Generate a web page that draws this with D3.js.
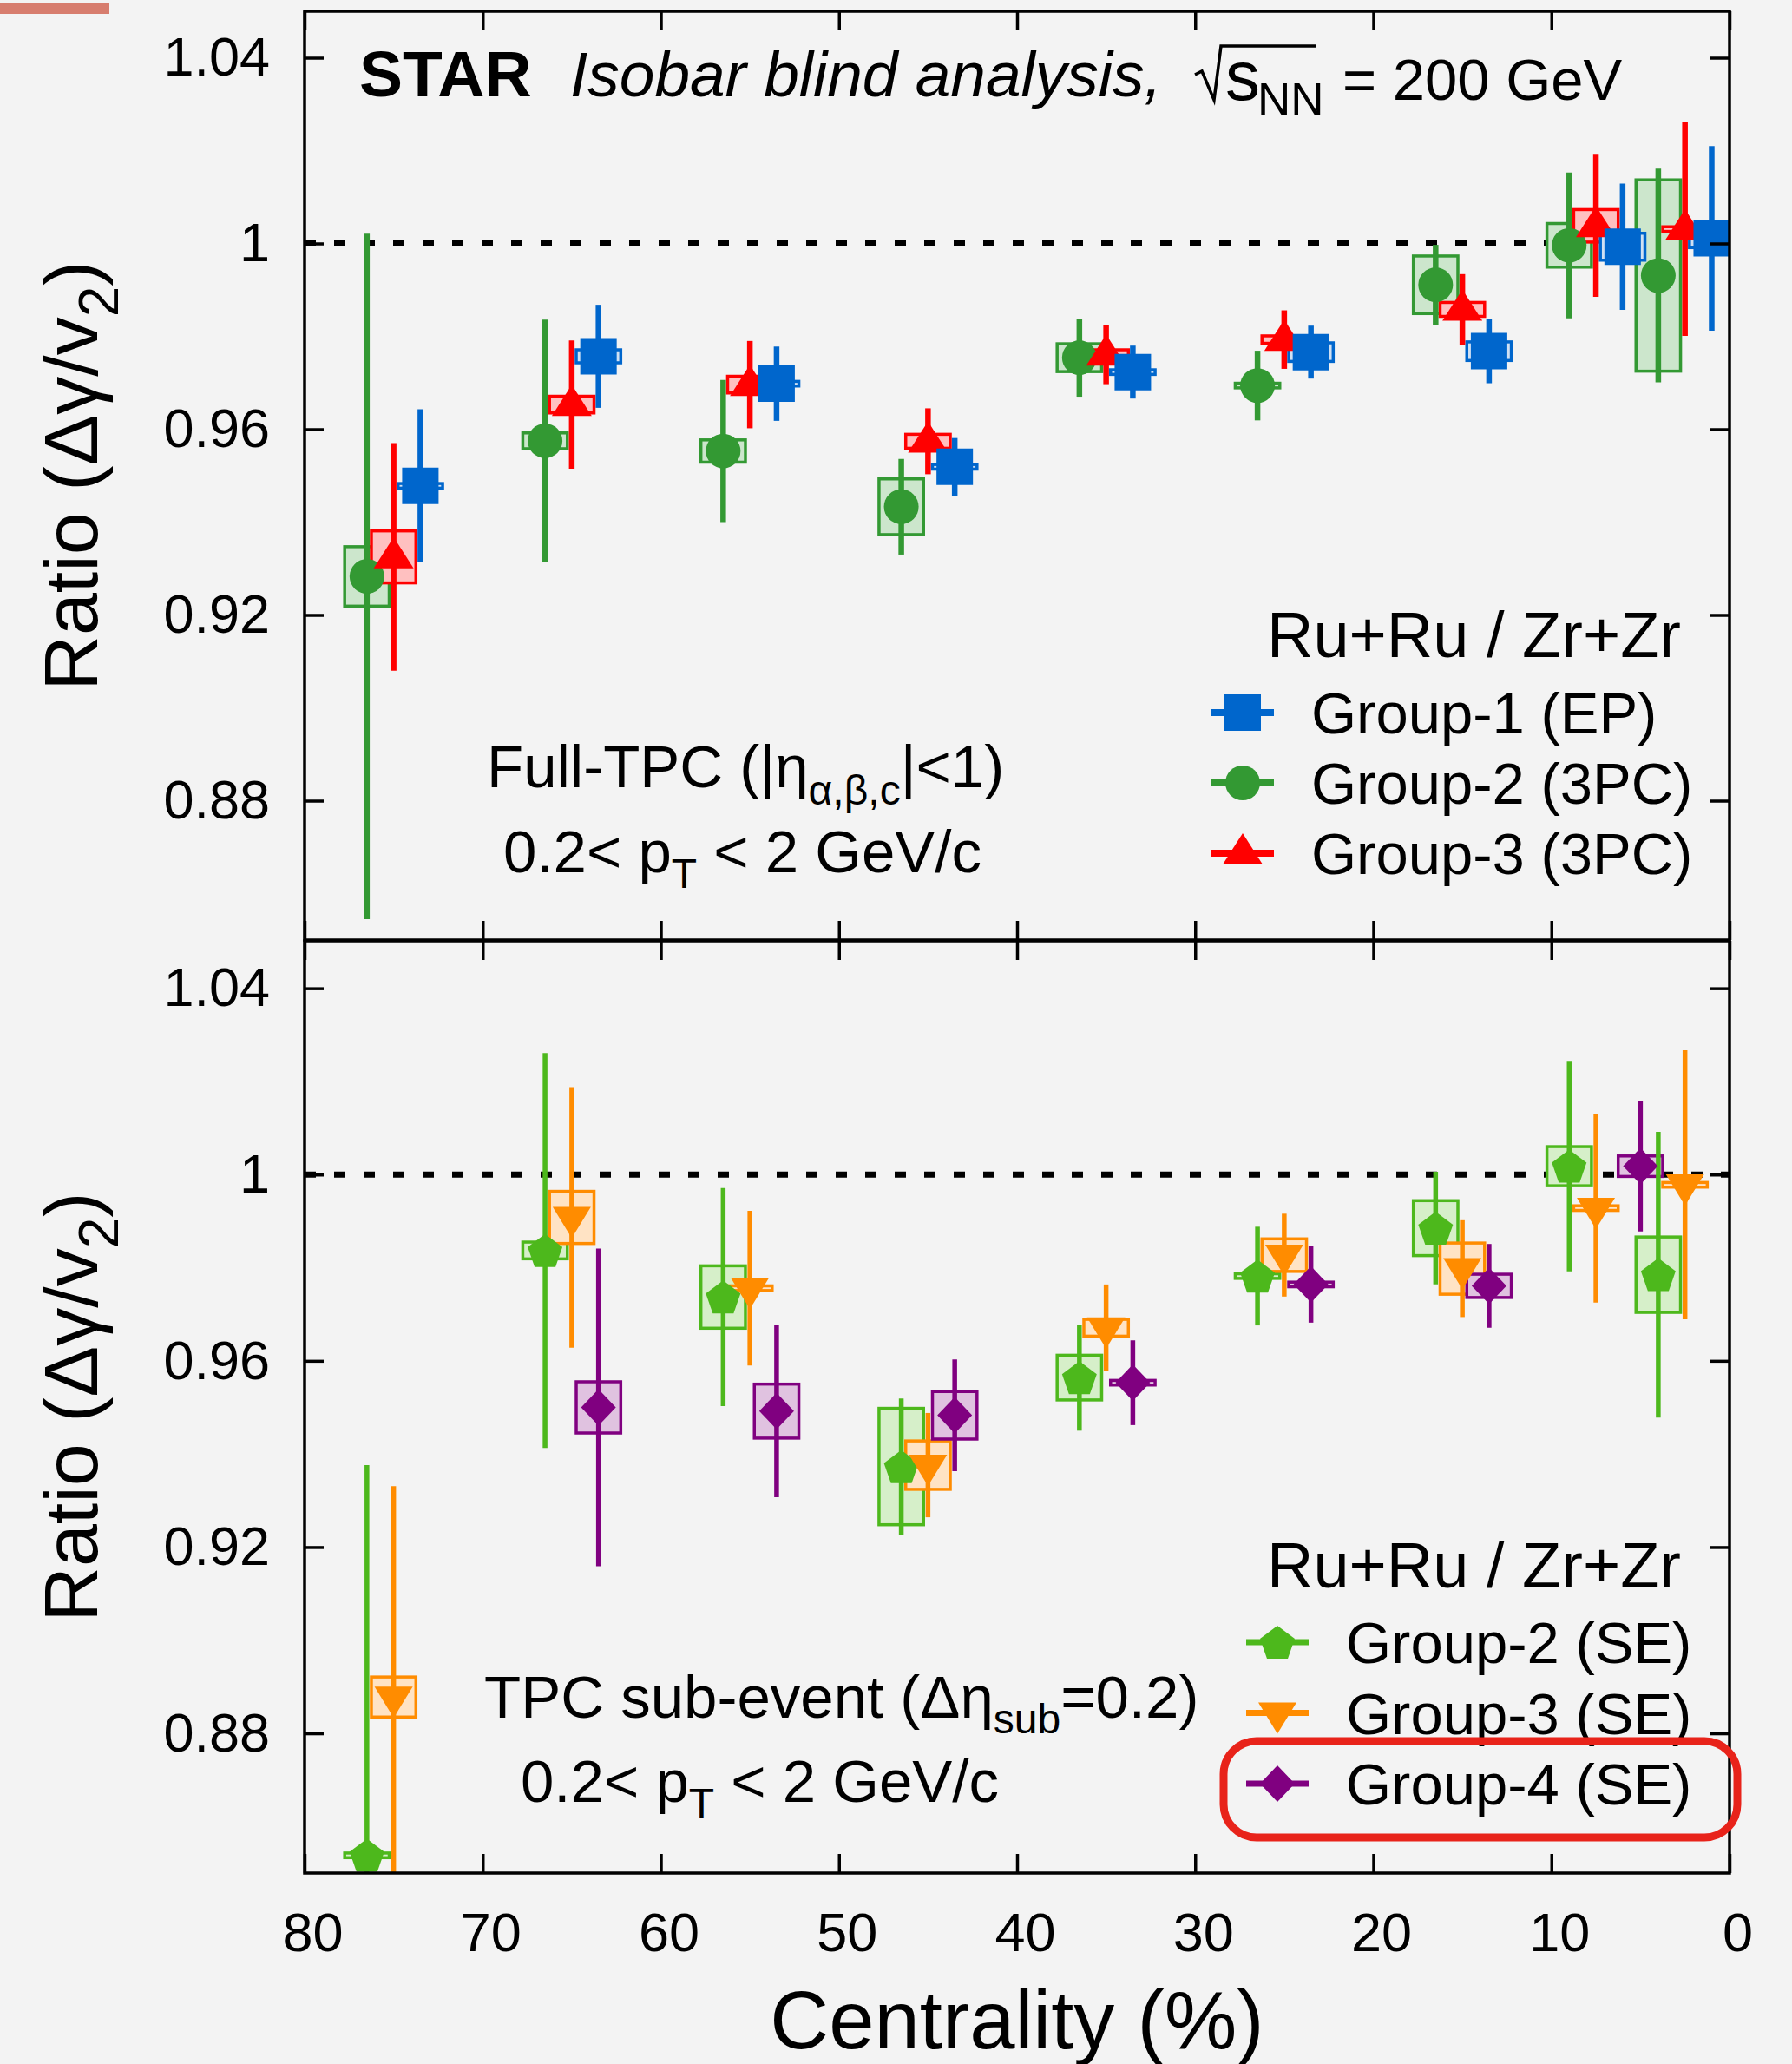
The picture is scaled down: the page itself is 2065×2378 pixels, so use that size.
<!DOCTYPE html>
<html>
<head>
<meta charset="utf-8">
<script src="https://cdn.jsdelivr.net/npm/d3@7"></script>
<style>
body { margin: 0; background: #f3f3f3; }
text { font-family: "Liberation Sans", Arial, Helvetica, sans-serif; fill: #000; }
</style>
</head>
<body>
<div id="chart"></div>
<script>
// ---- data (ratio Ru+Ru / Zr+Zr vs centrality) ----
const xTicks = [80, 70, 60, 50, 40, 30, 20, 10, 0];
const yTicks = [0.88, 0.92, 0.96, 1.0, 1.04];
const yTickLabels = ["0.88", "0.92", "0.96", "1", "1.04"];

// top panel: full-TPC
const g1Cent = [73.5, 63.5, 53.5, 43.5, 33.5, 23.5, 13.5, 6.0, 1.0];
const g1Val  = [0.9478, 0.9757, 0.9698, 0.9519, 0.9723, 0.9766, 0.9768, 0.9993, 1.0011];
const g1Stat = [0.0165, 0.0111, 0.0080, 0.0062, 0.0057, 0.0057, 0.0069, 0.0136, 0.0199];
const g1Sys  = [0.0005, 0.0014, 0.0005, 0.0005, 0.0005, 0.0020, 0.0020, 0.0029, 0.0020];

const g2Cent = [76.5, 66.5, 56.5, 46.5, 36.5, 26.5, 16.5, 9.0, 4.0];
const g2Val  = [0.9283, 0.9575, 0.9553, 0.9433, 0.9754, 0.9694, 0.9911, 0.9996, 0.9931];
const g2Stat = [0.0738, 0.0261, 0.0153, 0.0103, 0.0084, 0.0075, 0.0086, 0.0157, 0.0230];
const g2Sys  = [0.0064, 0.0017, 0.0024, 0.0060, 0.0030, 0.0005, 0.0062, 0.0047, 0.0206];

const g3Cent = [75, 65, 55, 45, 35, 25, 15, 7.5, 2.5];
const g3Val  = [0.9325, 0.9653, 0.9696, 0.9574, 0.9761, 0.9793, 0.9858, 1.0038, 1.0031];
const g3Stat = [0.0245, 0.0138, 0.0094, 0.0071, 0.0064, 0.0063, 0.0076, 0.0153, 0.0230];
const g3Sys  = [0.0056, 0.0018, 0.0018, 0.0015, 0.0010, 0.0008, 0.0015, 0.0035, 0.0005];

// bottom panel: TPC sub-event
const g2seCent = [76.5, 66.5, 56.5, 46.5, 36.5, 26.5, 16.5, 9.0, 4.0];
const g2seVal  = [0.8538, 0.9837, 0.9737, 0.9373, 0.9564, 0.9782, 0.9885, 1.0018, 0.9785];
const g2seStat = [0.0838, 0.0424, 0.0234, 0.0146, 0.0114, 0.0106, 0.0121, 0.0226, 0.0307];
const g2seSys  = [0.0005, 0.0018, 0.0067, 0.0125, 0.0048, 0.0005, 0.0059, 0.0042, 0.0081];

const g3seCent = [75, 65, 55, 45, 35, 25, 15, 7.5, 2.5];
const g3seVal  = [0.8878, 0.9908, 0.9756, 0.9376, 0.9671, 0.9827, 0.9798, 0.9928, 0.9978];
const g3seStat = [0.0453, 0.0280, 0.0166, 0.0112, 0.0093, 0.0089, 0.0104, 0.0203, 0.0289];
const g3seSys  = [0.0043, 0.0056, 0.0005, 0.0052, 0.0018, 0.0035, 0.0055, 0.0005, 0.0005];

const g4seCent = [63.5, 53.5, 43.5, 33.5, 23.5, 13.5, 5.0];
const g4seVal  = [0.9500, 0.9492, 0.9483, 0.9553, 0.9764, 0.9761, 1.0018];
const g4seStat = [0.0341, 0.0185, 0.0120, 0.0091, 0.0082, 0.0090, 0.0140];
const g4seSys  = [0.0055, 0.0058, 0.0051, 0.0005, 0.0005, 0.0025, 0.0022];

const topLegend = ["Group-1 (EP)", "Group-2 (3PC)", "Group-3 (3PC)"];
const botLegend = ["Group-2 (SE)", "Group-3 (SE)", "Group-4 (SE)"];

// ---- layout ----
const width = 2065, height = 2378;
const left = 351, right = 1993;

const svg = d3.select("#chart").append("svg")
    .attr("width", width)
    .attr("height", height);

svg.append("rect").attr("width", width).attr("height", height).attr("fill", "#f3f3f3");
// little red scribble top-left
svg.append("rect").attr("x", 0).attr("y", 4).attr("width", 126).attr("height", 12)
    .attr("fill", "#d4705f").attr("opacity", 0.9);

const x = d3.scaleLinear().domain([80, 0]).range([left, right]);
const yTop = d3.scaleLinear().domain([0.85, 1.05]).range([1083, 13]);
const yBot = d3.scaleLinear().domain([0.85, 1.05]).range([2158, 1085]);

const halfBox = 1.25; // half width of systematic boxes, in centrality units

function markerPath(shape) {
    switch (shape) {
        case "square": return "M-21,-21H21V21H-21Z";
        case "triUp": return "M0,-23L23,13L-23,13Z";
        case "triDown": return "M0,24L-22,-12L22,-12Z";
        case "pentagon": return "M0,-19L20,-4L12,19L-12,19L-20,-4Z";
        case "diamond": return "M0,-21L20,0L0,21L-20,0Z";
        default: return d3.symbol(d3.symbolCircle, Math.PI * 20 * 20)();
    }
}

function mk(cent, val, stat, sys, color, fill, shape) {
    return { cent, val, stat, sys, color, fill, shape };
}

const topSeries = [
    mk(g2Cent, g2Val, g2Stat, g2Sys, "#339933", "#cce6cc", "circle"),
    mk(g3Cent, g3Val, g3Stat, g3Sys, "#ff0000", "#ffc0c0", "triUp"),
    mk(g1Cent, g1Val, g1Stat, g1Sys, "#0066cc", "#cfe0f3", "square")
];
const botSeries = [
    mk(g2seCent, g2seVal, g2seStat, g2seSys, "#4db81c", "#d6efc9", "pentagon"),
    mk(g3seCent, g3seVal, g3seStat, g3seSys, "#ff8c00", "#ffe3c4", "triDown"),
    mk(g4seCent, g4seVal, g4seStat, g4seSys, "#800080", "#e0c2e0", "diamond")
];

function drawPanel(id, y, top, bottom, series, barW, showXLabels) {
    const g = svg.append("g");

    svg.append("clipPath").attr("id", id)
        .append("rect").attr("x", left).attr("y", top)
        .attr("width", right - left).attr("height", bottom - top);

    // reference line at 1
    g.append("line")
        .attr("x1", left).attr("x2", right)
        .attr("y1", y(1)).attr("y2", y(1))
        .attr("stroke", "#000").attr("stroke-width", 7)
        .attr("stroke-dasharray", "13,21");

    const clipped = g.append("g").attr("clip-path", `url(#${id})`);

    // systematic boxes
    series.forEach(s => {
        clipped.append("g").selectAll("rect")
            .data(d3.range(s.cent.length))
            .join("rect")
            .attr("x", i => x(s.cent[i] + halfBox))
            .attr("width", i => x(s.cent[i] - halfBox) - x(s.cent[i] + halfBox))
            .attr("y", i => y(s.val[i] + s.sys[i]))
            .attr("height", i => y(s.val[i] - s.sys[i]) - y(s.val[i] + s.sys[i]))
            .attr("fill", s.fill)
            .attr("stroke", s.color)
            .attr("stroke-width", 3.5);
    });

    // statistical error bars
    series.forEach(s => {
        clipped.append("g").selectAll("line")
            .data(d3.range(s.cent.length))
            .join("line")
            .attr("x1", i => x(s.cent[i])).attr("x2", i => x(s.cent[i]))
            .attr("y1", i => y(s.val[i] - s.stat[i]))
            .attr("y2", i => y(s.val[i] + s.stat[i]))
            .attr("stroke", s.color)
            .attr("stroke-width", barW);
    });

    // markers
    series.forEach(s => {
        g.append("g").selectAll("path")
            .data(d3.range(s.cent.length))
            .join("path")
            .attr("d", markerPath(s.shape))
            .attr("transform", i => `translate(${x(s.cent[i])},${y(s.val[i])})`)
            .attr("fill", s.color);
    });

    // axes (ticks inward on all four sides)
    const axL = g.append("g").attr("transform", `translate(${left},0)`)
        .call(d3.axisLeft(y).tickValues(yTicks).tickSize(-22).tickSizeOuter(0).tickPadding(40)
            .tickFormat((d, i) => yTickLabels[i]));
    const axR = g.append("g").attr("transform", `translate(${right},0)`)
        .call(d3.axisRight(y).tickValues(yTicks).tickSize(-22).tickSizeOuter(0).tickFormat(""));
    const axT = g.append("g").attr("transform", `translate(0,${top})`)
        .call(d3.axisTop(x).tickValues(xTicks).tickSize(-22).tickSizeOuter(0).tickFormat(""));
    const axB = g.append("g").attr("transform", `translate(0,${bottom})`)
        .call(d3.axisBottom(x).tickValues(xTicks).tickSize(-22).tickSizeOuter(0).tickPadding(45)
            .tickFormat(showXLabels ? d3.format("d") : ""));

    [axL, axR, axT, axB].forEach(a => {
        a.select(".domain").remove();
        a.selectAll(".tick line").attr("stroke", "#000").attr("stroke-width", 3.5);
        a.selectAll("text").attr("font-size", 63).attr("fill", "#000")
            .style("font-family", '"Liberation Sans", Arial, sans-serif');
    });
    axB.selectAll("text").attr("dx", 9);

    // frame
    g.append("rect")
        .attr("x", left).attr("y", top)
        .attr("width", right - left).attr("height", bottom - top)
        .attr("fill", "none").attr("stroke", "#000").attr("stroke-width", 3.5);

    // y title
    const yt = g.append("text")
        .attr("transform", `translate(112,${(top + bottom) / 2}) rotate(-90)`)
        .attr("text-anchor", "middle")
        .attr("font-size", 88);
    yt.append("tspan").text("Ratio (Δγ/v");
    yt.append("tspan").attr("font-size", 64).attr("dy", 24).text("2");
    yt.append("tspan").attr("dy", -24).text(")");

    return g;
}

drawPanel("clipTop", yTop, 13, 1083, topSeries, 6.5, false);
drawPanel("clipBot", yBot, 1084, 2158, botSeries, 5.5, true);

// ---- header ----
svg.append("text").attr("x", 414).attr("y", 111)
    .attr("font-size", 75).attr("font-weight", "bold").text("STAR");
svg.append("text").attr("x", 657).attr("y", 111)
    .attr("font-size", 73).attr("font-style", "italic").text("Isobar blind analysis,");
svg.append("path")
    .attr("d", "M1377,86L1385,82L1399,115L1407,53H1517")
    .attr("fill", "none").attr("stroke", "#000").attr("stroke-width", 3.5)
    .attr("stroke-linejoin", "miter");
svg.append("text").attr("x", 1412).attr("y", 115).attr("font-size", 80).text("s");
svg.append("text").attr("x", 1449).attr("y", 133).attr("font-size", 53).text("NN");
svg.append("text").attr("x", 1547).attr("y", 115).attr("font-size", 67).text("= 200 GeV");

// ---- panel annotations ----
function subText(xp, yp, parts) {
    const t = svg.append("text").attr("x", xp).attr("y", yp).attr("font-size", 69);
    parts.forEach(p => {
        const ts = t.append("tspan").text(p.t);
        if (p.sub) ts.attr("font-size", 48).attr("dy", p.sub);
        if (p.back) ts.attr("dy", -p.back);
    });
}
subText(561, 907, [{ t: "Full-TPC (|η" }, { t: "α,β,c", sub: 20 }, { t: "|<1)", back: 20 }]);
subText(580, 1005, [{ t: "0.2< p" }, { t: "T", sub: 18 }, { t: " < 2 GeV/c", back: 18 }]);
subText(558, 1979, [{ t: "TPC sub-event (Δη" }, { t: "sub", sub: 18 }, { t: "=0.2)", back: 18 }]);
subText(600, 2076, [{ t: "0.2< p" }, { t: "T", sub: 18 }, { t: " < 2 GeV/c", back: 18 }]);

// ---- legends ----
function legend(title, titleY, labels, series, symX, textX, rowY, step, barW) {
    svg.append("text").attr("x", 1937).attr("y", titleY)
        .attr("text-anchor", "end").attr("font-size", 74).text(title);
    labels.forEach((lab, i) => {
        const s = series[i];
        const cy = rowY + i * step;
        svg.append("line").attr("x1", symX - 36).attr("x2", symX + 36)
            .attr("y1", cy).attr("y2", cy)
            .attr("stroke", s.color).attr("stroke-width", barW + 1.5);
        svg.append("path").attr("d", markerPath(s.shape))
            .attr("transform", `translate(${symX},${cy})`).attr("fill", s.color);
        svg.append("text").attr("x", textX).attr("y", cy + 24)
            .attr("font-size", 67).text(lab);
    });
}
legend("Ru+Ru / Zr+Zr", 757, topLegend, [topSeries[2], topSeries[0], topSeries[1]],
    1432, 1511, 821, 81, 6.5);
legend("Ru+Ru / Zr+Zr", 1829, botLegend, botSeries, 1472, 1551, 1892, 81.5, 5.5);

// ---- x title ----
svg.append("text").attr("x", 1172).attr("y", 2360)
    .attr("text-anchor", "middle").attr("font-size", 94).text("Centrality (%)");

// ---- highlight around Group-4 entry ----
svg.append("rect")
    .attr("x", 1410).attr("y", 2006).attr("width", 592).attr("height", 111)
    .attr("rx", 38).attr("ry", 38)
    .attr("fill", "none").attr("stroke", "#e8231a").attr("stroke-width", 9);
</script>
</body>
</html>
